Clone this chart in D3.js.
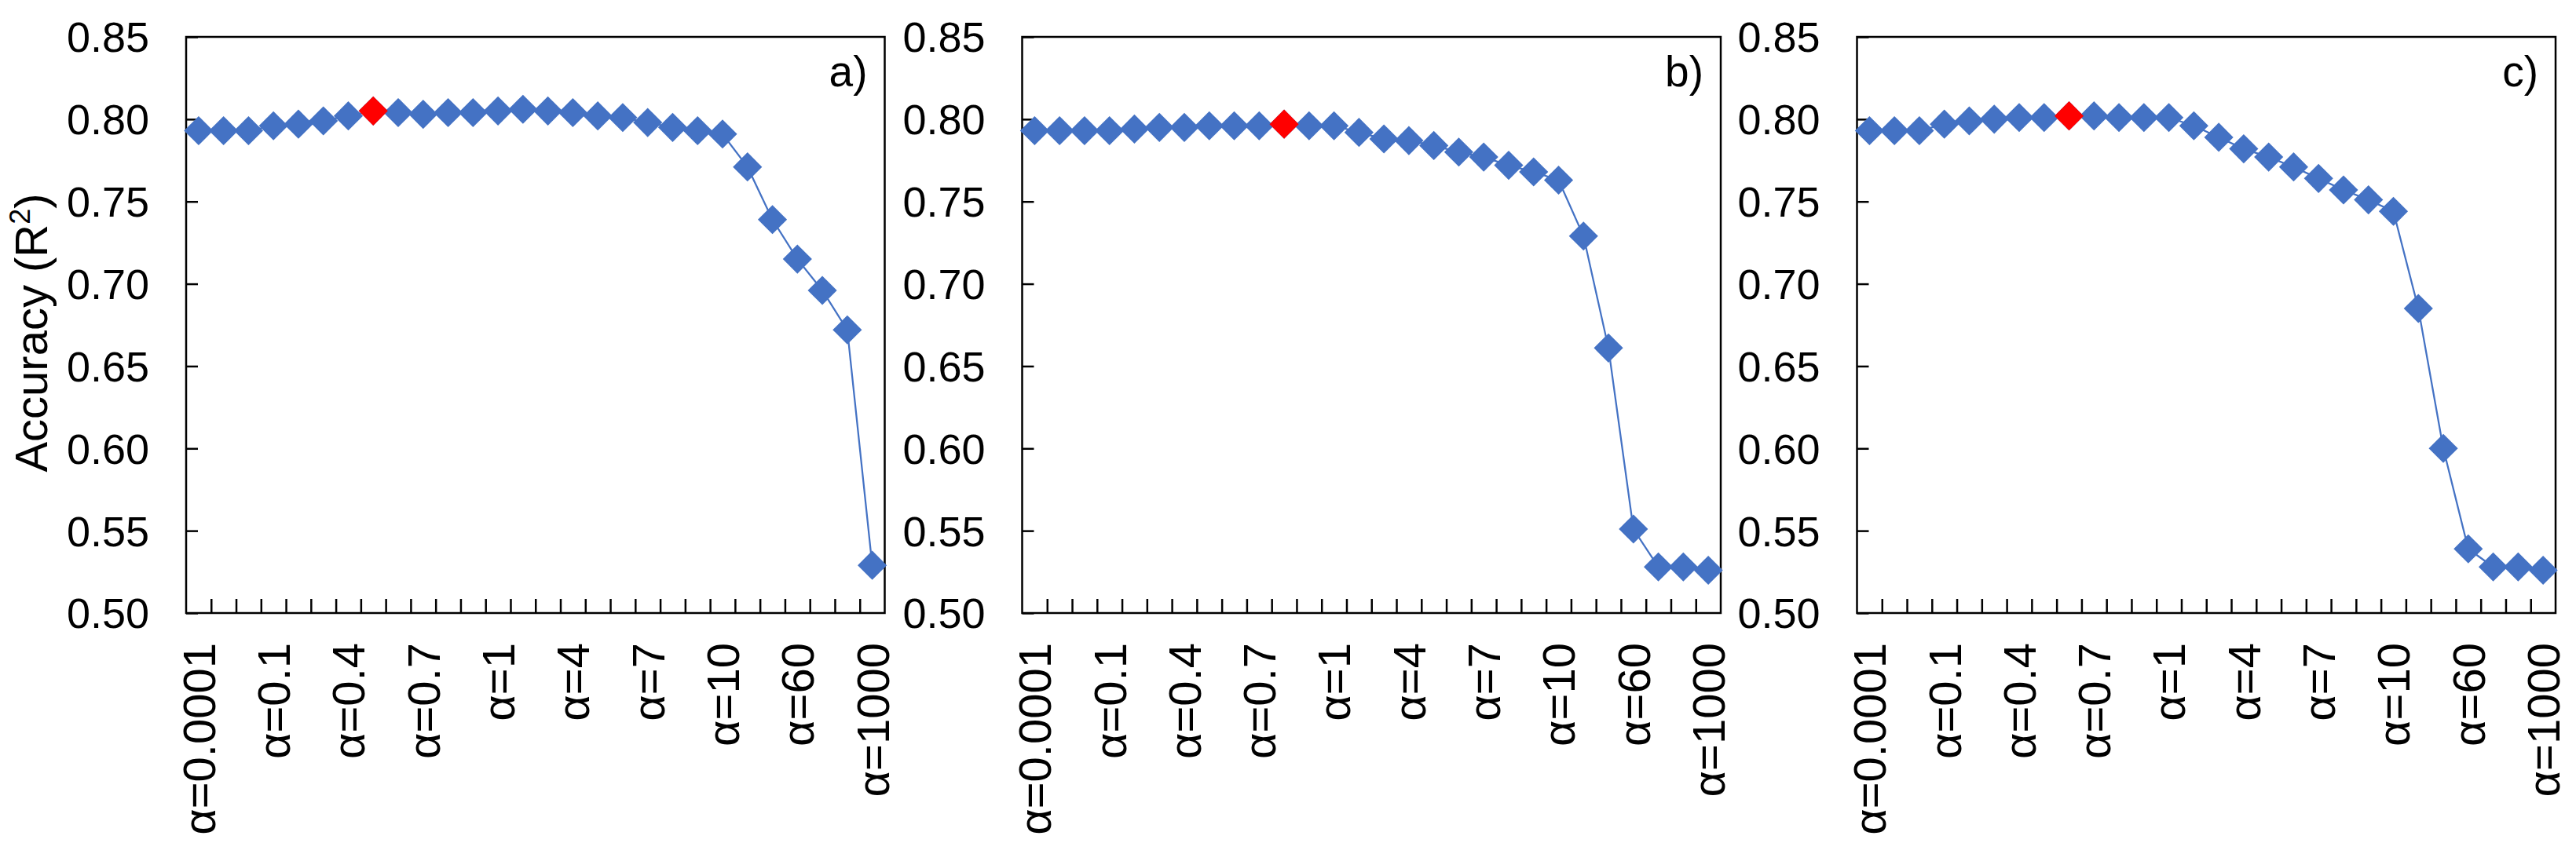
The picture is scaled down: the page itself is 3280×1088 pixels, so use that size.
<!DOCTYPE html>
<html>
<head>
<meta charset="utf-8">
<script src="https://cdn.jsdelivr.net/npm/d3@7"></script>
<style>
  body { margin: 0; background: #fff; }
  text { font-family: "Liberation Sans", Arial, sans-serif; fill: #000; }
</style>
</head>
<body>
<div class="chart"></div>
<script>
// categories on the x axis (only every 3rd one gets a label)
var categories = ["α=0.0001", "α=0.001", "α=0.01", "α=0.1", "α=0.2", "α=0.3", "α=0.4",
  "α=0.5", "α=0.6", "α=0.7", "α=0.8", "α=0.9", "α=1", "α=2", "α=3", "α=4", "α=5",
  "α=6", "α=7", "α=8", "α=9", "α=10", "α=20", "α=40", "α=60", "α=80", "α=100", "α=1000"];

var seriesA = [0.793, 0.793, 0.793, 0.796, 0.797, 0.799, 0.802, 0.805, 0.804, 0.803,
  0.804, 0.804, 0.805, 0.806, 0.805, 0.804, 0.802, 0.801, 0.798, 0.795, 0.793, 0.791,
  0.771, 0.739, 0.715, 0.696, 0.672, 0.529];
var seriesB = [0.793, 0.793, 0.793, 0.793, 0.794, 0.795, 0.795, 0.796, 0.796, 0.796,
  0.797, 0.796, 0.796, 0.792, 0.788, 0.787, 0.784, 0.780, 0.777, 0.772, 0.768, 0.763,
  0.729, 0.661, 0.551, 0.528, 0.528, 0.526];
var seriesC = [0.793, 0.793, 0.793, 0.797, 0.799, 0.800, 0.801, 0.801, 0.802, 0.802,
  0.801, 0.801, 0.801, 0.796, 0.789, 0.782, 0.777, 0.771, 0.764, 0.757, 0.751, 0.744,
  0.685, 0.600, 0.539, 0.528, 0.528, 0.526];

// index of the highlighted (red) point in each panel
var bestIndex = [7, 10, 8];
var panelNames = ["a)", "b)", "c)"];
var yTicks = [0.50, 0.55, 0.60, 0.65, 0.70, 0.75, 0.80, 0.85];

var svgWidth = 3280;
var svgHeight = 1088;
var panelLeft = [237, 1301.5, 2364.5];
var panelWidth = 889.5;
var plotTop = 47;
var plotBottom = 781;

var blue = "#4472C4";

var svg = d3.select(".chart")
  .append("svg")
  .attr("width", svgWidth)
  .attr("height", svgHeight);

svg.append("rect")
  .attr("width", svgWidth)
  .attr("height", svgHeight)
  .attr("fill", "#fff");

var y = d3.scaleLinear()
  .domain([0.5, 0.85])
  .range([plotBottom, plotTop]);

var allSeries = [seriesA, seriesB, seriesC];

allSeries.forEach(function(values, k) {
  var g = svg.append("g")
    .attr("transform", `translate(${panelLeft[k]}, 0)`);

  var x = d3.scaleBand()
    .domain(categories)
    .range([0, panelWidth]);

  // boundaries between categories, for the tick marks
  var xEdge = d3.scaleLinear()
    .domain([0, categories.length])
    .range([0, panelWidth]);

  var cx = function(i) { return x(categories[i]) + x.bandwidth() / 2; };

  // y axis with inward ticks
  var yAxis = g.append("g")
    .call(d3.axisLeft(y)
      .tickValues(yTicks)
      .tickSize(-15)
      .tickPadding(47)
      .tickFormat(d3.format(".2f")));
  yAxis.select(".domain").remove();
  yAxis.selectAll("line").attr("stroke", "#000").attr("stroke-width", 2.5);
  yAxis.selectAll("text")
    .attr("font-family", "Liberation Sans, Arial, sans-serif")
    .attr("font-size", 54)
    .attr("dy", "0.35em");

  // x tick marks between categories
  var xTicks = g.append("g")
    .attr("transform", `translate(0, ${plotBottom})`)
    .call(d3.axisBottom(xEdge)
      .tickValues(d3.range(1, categories.length))
      .tickSize(-18)
      .tickFormat(""));
  xTicks.select(".domain").remove();
  xTicks.selectAll("line").attr("stroke", "#000").attr("stroke-width", 2.5);

  // rotated category labels, every third one
  var xLabels = g.append("g")
    .attr("transform", `translate(0, ${plotBottom})`)
    .call(d3.axisBottom(x)
      .tickValues(categories.filter(function(d, i) { return i % 3 === 0; }))
      .tickSize(0));
  xLabels.select(".domain").remove();
  xLabels.selectAll("text")
    .attr("font-family", "Liberation Sans, Arial, sans-serif")
    .attr("font-size", 58)
    .attr("transform", "rotate(-90)")
    .attr("text-anchor", "end")
    .attr("x", -38)
    .attr("y", 0)
    .attr("dy", "0.36em");

  // frame
  g.append("rect")
    .attr("x", 0)
    .attr("y", plotTop)
    .attr("width", panelWidth)
    .attr("height", plotBottom - plotTop)
    .attr("fill", "none")
    .attr("stroke", "#000")
    .attr("stroke-width", 2.5);

  // line
  var line = d3.line()
    .x(function(d, i) { return cx(i); })
    .y(function(d) { return y(d); });

  g.append("path")
    .datum(values)
    .attr("d", line)
    .attr("fill", "none")
    .attr("stroke", blue)
    .attr("stroke-width", 2.25);

  // diamond markers
  var diamond = d3.symbol(d3.symbolSquare, 690);
  g.selectAll("path.marker")
    .data(values)
    .enter()
    .append("path")
    .attr("class", "marker")
    .attr("d", diamond)
    .attr("transform", function(d, i) { return `translate(${cx(i)}, ${y(d)}) rotate(45)`; })
    .attr("fill", blue);

  // highlighted point on top
  g.append("path")
    .attr("d", diamond)
    .attr("transform", `translate(${cx(bestIndex[k])}, ${y(values[bestIndex[k]])}) rotate(45)`)
    .attr("fill", "#FF0000");

  // panel letter
  g.append("text")
    .attr("x", panelWidth - 22)
    .attr("y", 110)
    .attr("text-anchor", "end")
    .attr("font-size", 55)
    .text(panelNames[k]);
});

// y axis title
var title = svg.append("text")
  .attr("transform", "translate(60, 424) rotate(-90)")
  .attr("text-anchor", "middle")
  .attr("font-size", 58);
title.append("tspan").text("Accuracy (R");
title.append("tspan").attr("font-size", 36).attr("dy", -22).text("2");
title.append("tspan").attr("dy", 22).text(")");
</script>
</body>
</html>
